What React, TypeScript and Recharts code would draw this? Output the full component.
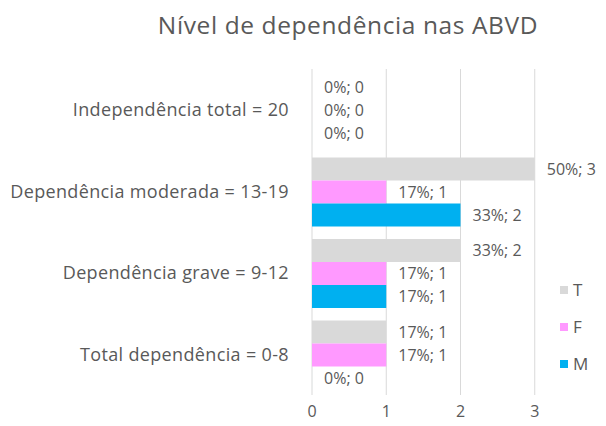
import React from 'react';
import { BarChart, Bar, XAxis, YAxis, CartesianGrid, LabelList, Legend } from 'recharts';

const categories = [
  'Independência total = 20',
  'Dependência moderada = 13-19',
  'Dependência grave = 9-12',
  'Total dependência = 0-8',
];
const tValues = [0, 3, 2, 1];
const fValues = [0, 1, 1, 1];
const mValues = [0, 2, 1, 0];
const tPct = [0, 50, 33, 17];
const fPct = [0, 17, 17, 17];
const mPct = [0, 33, 17, 0];
const xTicks = [0, 1, 2, 3, 4];
const seriesNames = ['T', 'F', 'M'];
const colors = ['#d9d9d9', '#ff99ff', '#00b0f0'];

const data = categories.map((name, i) => ({
  name,
  T: tValues[i],
  F: fValues[i],
  M: mValues[i],
  tLabel: `${tPct[i]}%; ${tValues[i]}`,
  fLabel: `${fPct[i]}%; ${fValues[i]}`,
  mLabel: `${mPct[i]}%; ${mValues[i]}`,
}));

const FONT = '"Open Sans", sans-serif';
const TEXT = '#595959';
const labelStyle = { fontFamily: FONT, fontSize: 16, fill: TEXT };

const LegendContent = (props: any) => {
  const payload = [...(props.payload || [])].sort(
    (a: any, b: any) => seriesNames.indexOf(a.value) - seriesNames.indexOf(b.value)
  );
  return (
    <div style={{ fontFamily: FONT, fontSize: 17, color: TEXT }}>
      {payload.map((p: any) => (
        <div key={p.value} style={{ display: 'flex', alignItems: 'center', height: 37 }}>
          <span style={{ width: 8, height: 8, background: p.color, display: 'inline-block', marginRight: 5 }} />
          <span>{p.value}</span>
        </div>
      ))}
    </div>
  );
};

export default function App() {
  return (
    <div style={{ position: 'relative', width: 606, height: 426, margin: -8, overflow: 'hidden', background: '#fff' }}>
      <div
        style={{
          position: 'absolute',
          top: 9,
          left: 0,
          width: 696,
          textAlign: 'center',
          fontFamily: FONT,
          fontSize: 24.5,
          letterSpacing: 0.6,
          lineHeight: '32px',
          color: TEXT,
          zIndex: 2,
        }}
      >
        Nível de dependência nas ABVD
      </div>
      <BarChart
        width={640}
        height={426}
        data={data}
        layout="vertical"
        margin={{ top: 69, right: 31, bottom: 1, left: 0 }}
        barGap={0}
        barCategoryGap={7}
      >
        <CartesianGrid horizontal={false} stroke="#d9d9d9" />
        <XAxis
          type="number"
          domain={[0, 4]}
          ticks={xTicks}
          interval={0}
          height={30}
          tickLine={false}
          axisLine={false}
          tickSize={0}
          tickMargin={11}
          tick={{ fontFamily: FONT, fontSize: 16, fill: TEXT }}
        />
        <YAxis
          type="category"
          dataKey="name"
          width={312}
          tickLine={false}
          axisLine={false}
          tickSize={0}
          tickMargin={23}
          tick={{ fontFamily: FONT, fontSize: 18, fill: TEXT, letterSpacing: 0.35 }}
        />
        <Legend
          layout="vertical"
          align="center"
          verticalAlign="middle"
          wrapperStyle={{ left: 560, top: 271, width: 60 }}
          content={<LegendContent />}
        />
        <Bar dataKey="T" name={seriesNames[0]} fill={colors[0]} minPointSize={0.01} isAnimationActive={false}>
          <LabelList dataKey="tLabel" position="right" offset={12} style={labelStyle} />
        </Bar>
        <Bar dataKey="F" name={seriesNames[1]} fill={colors[1]} minPointSize={0.01} isAnimationActive={false}>
          <LabelList dataKey="fLabel" position="right" offset={12} style={labelStyle} />
        </Bar>
        <Bar dataKey="M" name={seriesNames[2]} fill={colors[2]} minPointSize={0.01} isAnimationActive={false}>
          <LabelList dataKey="mLabel" position="right" offset={12} style={labelStyle} />
        </Bar>
      </BarChart>
    </div>
  );
}
